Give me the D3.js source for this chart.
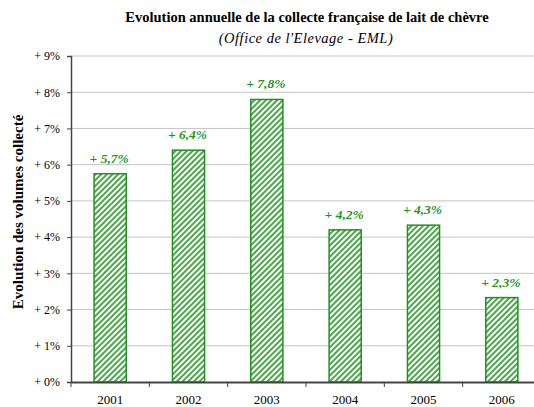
<!DOCTYPE html>
<html>
<head>
<meta charset="utf-8">
<script src="https://cdn.jsdelivr.net/npm/d3@7"></script>
<style>
  body { margin: 0; background: #fff; }
  svg text { font-family: "Liberation Serif", "Times New Roman", serif; }
</style>
</head>
<body>
<div class="chart"></div>
<script>
var years = ["2001", "2002", "2003", "2004", "2005", "2006"];
var growth = [5.75, 6.4, 7.8, 4.2, 4.33, 2.33];
var labels = ["+ 5,7%", "+ 6,4%", "+ 7,8%", "+ 4,2%", "+ 4,3%", "+ 2,3%"];
var yTicks = [0, 1, 2, 3, 4, 5, 6, 7, 8, 9];

var svgWidth = 534;
var svgHeight = 407;
var margin = {top: 56, right: -7, bottom: 25, left: 71};
var width = svgWidth - margin.left - margin.right;
var height = svgHeight - margin.top - margin.bottom;

var svg = d3.select(".chart").append("svg")
  .attr("width", svgWidth)
  .attr("height", svgHeight);

// hatch pattern
var pat = svg.append("defs").append("pattern")
  .attr("id", "hatch")
  .attr("patternUnits", "userSpaceOnUse")
  .attr("width", 4).attr("height", 4)
  .attr("patternTransform", "rotate(45)");
pat.append("rect").attr("width", 4).attr("height", 4).attr("fill", "#fff");
pat.append("rect").attr("width", 2).attr("height", 4).attr("fill", "#4aa84a");

svg.append("text")
  .attr("x", 307).attr("y", 22)
  .attr("text-anchor", "middle")
  .style("font-size", "14.5px").style("font-weight", "bold")
  .text("Evolution annuelle de la collecte française de lait de chèvre");

svg.append("text")
  .attr("x", 306).attr("y", 43)
  .attr("text-anchor", "middle")
  .style("font-size", "14.5px").style("font-style", "italic")
  .style("letter-spacing", "0.5px")
  .text("(Office de l'Elevage - EML)");

var chart = svg.append("g")
  .attr("transform", "translate(" + margin.left + "," + margin.top + ")");

var x = d3.scaleBand().domain(years).range([0, width]).paddingInner(0.59).paddingOuter(0.295);
var xTicks = d3.scaleBand().domain(years).range([0, width]);
var y = d3.scaleLinear().domain([0, 9]).range([height, 0]);

// grid
chart.selectAll(".grid").data(yTicks.slice(1)).enter().append("line")
  .attr("x1", 0).attr("x2", width)
  .attr("y1", function(d) { return y(d); })
  .attr("y2", function(d) { return y(d); })
  .attr("stroke", "#c4c4c4").attr("stroke-width", 1);

// bars
chart.selectAll(".bar").data(growth).enter().append("rect")
  .attr("x", function(d, i) { return x(years[i]); })
  .attr("y", function(d) { return y(d); })
  .attr("width", x.bandwidth())
  .attr("height", function(d) { return height - y(d); })
  .attr("fill", "url(#hatch)")
  .attr("stroke", "#229022").attr("stroke-width", 1.5);

// value labels
chart.selectAll(".lbl").data(growth).enter().append("text")
  .attr("x", function(d, i) { return x(years[i]) + x.bandwidth() / 2 - 1; })
  .attr("y", function(d) { return y(d) - 11; })
  .attr("text-anchor", "middle")
  .attr("fill", "#1f961f")
  .style("font-size", "13.5px").style("font-weight", "bold").style("font-style", "italic")
  .text(function(d, i) { return labels[i]; });

// y axis
var yAxis = chart.append("g")
  .call(d3.axisLeft(y).tickValues(yTicks).tickSize(4).tickFormat(function(d) { return "+ " + d + "%"; }));
yAxis.attr("font-family", null);
yAxis.select(".domain").attr("stroke", "#444").attr("stroke-width", 1.5);
yAxis.selectAll(".tick line").attr("stroke", "#444");
yAxis.selectAll(".tick text").attr("fill", "#000").attr("x", -11)
  .style("font-size", "12px");

// x axis
var xAxis = chart.append("g")
  .attr("transform", "translate(0," + height + ")")
  .call(d3.axisBottom(xTicks).tickSize(0).tickPadding(13));
xAxis.attr("font-family", null);
xAxis.select(".domain").attr("stroke", "#444").attr("stroke-width", 2);
xAxis.selectAll(".tick text").attr("fill", "#000")
  .style("font-size", "13px");
xAxis.selectAll(".sep").data(years).enter().append("line")
  .attr("x1", function(d) { return xTicks(d); })
  .attr("x2", function(d) { return xTicks(d); })
  .attr("y1", 0).attr("y2", 5)
  .attr("stroke", "#444");

svg.append("text")
  .attr("transform", "translate(23," + (margin.top + height / 2 - 7) + ") rotate(-90)")
  .attr("text-anchor", "middle")
  .style("font-size", "15px").style("font-weight", "bold")
  .text("Evolution des volumes collecté");
</script>
</body>
</html>
